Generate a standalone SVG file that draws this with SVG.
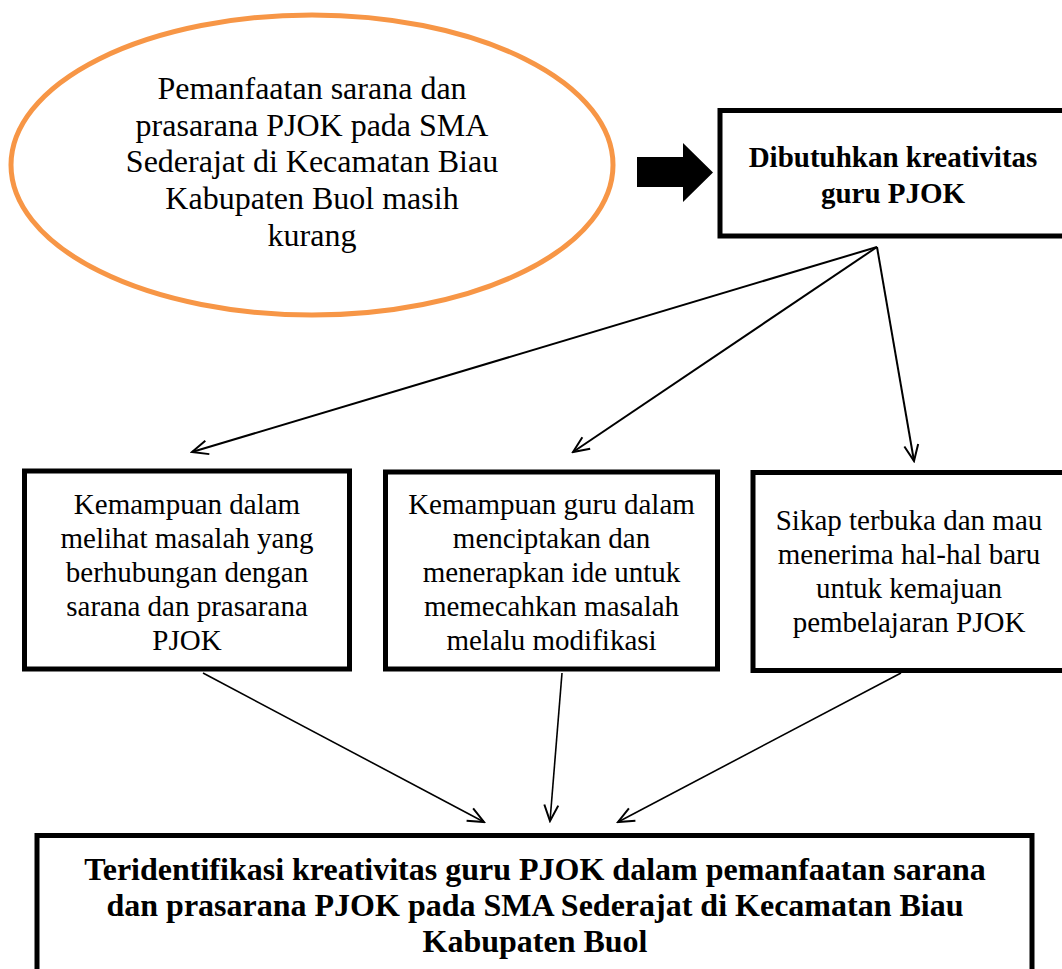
<svg xmlns="http://www.w3.org/2000/svg" width="1062" height="969" viewBox="0 0 1062 969">
<style>
.t{font-family:"Liberation Serif","Times New Roman",serif;fill:#000;text-anchor:middle}
.n{font-size:29px}
.e{font-size:32px}
.b{font-weight:bold}
.box{fill:#fff;stroke:#000;stroke-width:5}
.c{fill:none;stroke:#000;stroke-width:2;marker-end:url(#ah)}
.c2{fill:none;stroke:#000;stroke-width:1.6;marker-end:url(#ah)}
</style>
<defs>
<marker id="ah" viewBox="0 0 20 20" refX="18" refY="10" markerWidth="20" markerHeight="20" markerUnits="userSpaceOnUse" orient="auto">
<path d="M2,3 L18,10 L2,17" fill="none" stroke="#000" stroke-width="2"/>
</marker>
</defs>
<rect width="1062" height="969" fill="#fff"/>
<g id="problem">
<ellipse cx="312" cy="165" rx="301" ry="150" fill="#fff" stroke="#F79646" stroke-width="5"/>
<text class="t e" x="312" y="99">Pemanfaatan sarana dan</text>
<text class="t e" x="312" y="136">prasarana PJOK pada SMA</text>
<text class="t e" x="312" y="172">Sederajat di Kecamatan Biau</text>
<text class="t e" x="312" y="209">Kabupaten Buol masih</text>
<text class="t e" x="312" y="246">kurang</text>
</g>
<g id="block-arrow">
<polygon points="637,157 683,157 683,143 713,172.5 683,202 683,187 637,187" fill="#000"/>
</g>
<g id="need">
<rect class="box" x="720" y="110.5" width="360" height="125.5"/>
<text class="t n b" x="893" y="167">Dibutuhkan kreativitas</text>
<text class="t n b" x="893" y="203">guru PJOK</text>
</g>
<g id="ability-see">
<rect class="box" x="24.5" y="471" width="325" height="198"/>
<text class="t n" x="187" y="514">Kemampuan dalam</text>
<text class="t n" x="187" y="548">melihat masalah yang</text>
<text class="t n" x="187" y="582">berhubungan dengan</text>
<text class="t n" x="187" y="616">sarana dan prasarana</text>
<text class="t n" x="187" y="650">PJOK</text>
</g>
<g id="ability-create">
<rect class="box" x="385.5" y="472" width="332" height="197"/>
<text class="t n" x="551.5" y="514">Kemampuan guru dalam</text>
<text class="t n" x="551.5" y="548">menciptakan dan</text>
<text class="t n" x="551.5" y="582">menerapkan ide untuk</text>
<text class="t n" x="551.5" y="616">memecahkan masalah</text>
<text class="t n" x="551.5" y="650">melalu modifikasi</text>
</g>
<g id="open-attitude">
<rect class="box" x="753" y="472.5" width="330" height="198"/>
<text class="t n" x="909" y="530">Sikap terbuka dan mau</text>
<text class="t n" x="909" y="564">menerima hal-hal baru</text>
<text class="t n" x="909" y="598">untuk kemajuan</text>
<text class="t n" x="909" y="632">pembelajaran PJOK</text>
</g>
<g id="result">
<rect class="box" x="37" y="835.5" width="995" height="160" stroke-width="5.5"/>
<text class="t e b" x="535" y="880">Teridentifikasi kreativitas guru PJOK dalam pemanfaatan sarana</text>
<text class="t e b" x="535" y="916">dan prasarana PJOK pada SMA Sederajat di Kecamatan Biau</text>
<text class="t e b" x="535" y="952">Kabupaten Buol</text>
</g>
<g id="connectors">
<line class="c" x1="877" y1="247" x2="192" y2="452"/>
<line class="c" x1="877" y1="247" x2="573" y2="452"/>
<line class="c" x1="877" y1="247" x2="914" y2="461"/>
<line class="c2" x1="203" y1="673" x2="484" y2="822"/>
<line class="c2" x1="562" y1="673" x2="550" y2="821"/>
<line class="c2" x1="901" y1="673" x2="618" y2="822"/>
</g>
</svg>
